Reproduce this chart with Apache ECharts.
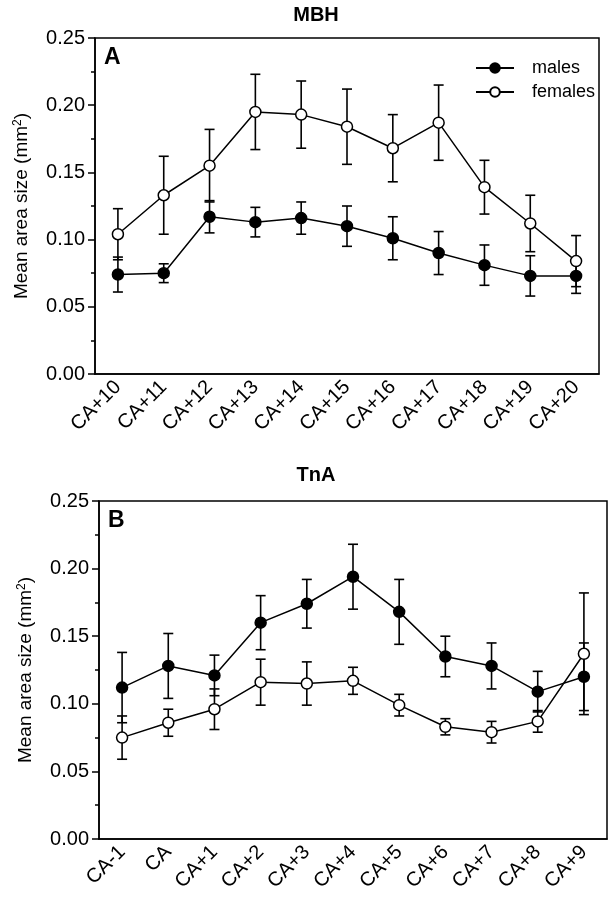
<!DOCTYPE html>
<html>
<head>
    <meta charset="utf-8">
    <title>MBH / TnA</title>
    <script type="text/javascript" src="https://cdn.jsdelivr.net/npm/echarts@6/dist/echarts.min.js"></script>
    <style type="text/css">
        html, body { margin: 0; padding: 0; background: #fff; }
        #chart { width: 614px; height: 909px; }
    </style>
</head>
<body>
<div id="chart"></div>
<script type="text/javascript">
    // panel A (MBH)
    let catsA = ['CA+10', 'CA+11', 'CA+12', 'CA+13', 'CA+14', 'CA+15', 'CA+16', 'CA+17', 'CA+18', 'CA+19', 'CA+20'];
    let malesA = [0.074, 0.075, 0.117, 0.113, 0.116, 0.110, 0.101, 0.090, 0.081, 0.073, 0.073];
    let malesErrA = [0.013, 0.007, 0.012, 0.011, 0.012, 0.015, 0.016, 0.016, 0.015, 0.015, 0.013];
    let femalesA = [0.104, 0.133, 0.155, 0.195, 0.193, 0.184, 0.168, 0.187, 0.139, 0.112, 0.084];
    let femalesErrA = [0.019, 0.029, 0.027, 0.028, 0.025, 0.028, 0.025, 0.028, 0.020, 0.021, 0.019];

    // panel B (TnA)
    let catsB = ['CA-1', 'CA', 'CA+1', 'CA+2', 'CA+3', 'CA+4', 'CA+5', 'CA+6', 'CA+7', 'CA+8', 'CA+9'];
    let malesB = [0.112, 0.128, 0.121, 0.160, 0.174, 0.194, 0.168, 0.135, 0.128, 0.109, 0.120];
    let malesErrB = [0.026, 0.024, 0.015, 0.020, 0.018, 0.024, 0.024, 0.015, 0.017, 0.015, 0.025];
    let femalesB = [0.075, 0.086, 0.096, 0.116, 0.115, 0.117, 0.099, 0.083, 0.079, 0.087, 0.137];
    let femalesErrB = [0.016, 0.010, 0.015, 0.017, 0.016, 0.010, 0.008, 0.006, 0.008, 0.008, 0.045];

    let yTicks = [0, 0.05, 0.10, 0.15, 0.20, 0.25];

    const FONT = 'Liberation Sans, Arial, sans-serif';

    function errData(vals, errs) {
        return vals.map(function (v, i) { return [i, v - errs[i], v + errs[i]]; });
    }

    function errSeries(idx, vals, errs) {
        return {
            type: 'custom',
            xAxisIndex: idx,
            yAxisIndex: idx,
            z: 1,
            silent: true,
            data: errData(vals, errs),
            renderItem: function (params, api) {
                let lo = api.coord([api.value(0), api.value(1)]);
                let hi = api.coord([api.value(0), api.value(2)]);
                let w = 5;
                let st = { stroke: '#000', lineWidth: 1.6 };
                return {
                    type: 'group',
                    children: [
                        { type: 'line', shape: { x1: lo[0], y1: lo[1], x2: hi[0], y2: hi[1] }, style: st },
                        { type: 'line', shape: { x1: lo[0] - w, y1: lo[1], x2: lo[0] + w, y2: lo[1] }, style: st },
                        { type: 'line', shape: { x1: hi[0] - w, y1: hi[1], x2: hi[0] + w, y2: hi[1] }, style: st }
                    ]
                };
            }
        };
    }

    function lineSeries(idx, name, vals, filled) {
        return {
            name: name,
            type: 'line',
            xAxisIndex: idx,
            yAxisIndex: idx,
            z: 3,
            data: vals,
            symbol: 'circle',
            symbolSize: 11,
            showAllSymbol: true,
            lineStyle: { color: '#000', width: 1.5 },
            itemStyle: { color: filled ? '#000' : '#fff', borderColor: '#000', borderWidth: 1.5 }
        };
    }

    function xAxis(idx, cats) {
        return {
            type: 'category',
            gridIndex: idx,
            data: cats,
            boundaryGap: true,
            axisLine: { lineStyle: { color: '#000', width: 1.5 } },
            axisTick: { alignWithLabel: true, length: 7, lineStyle: { color: '#000', width: 1.5 } },
            axisLabel: { rotate: 45, color: '#000', fontSize: 20, fontFamily: FONT, margin: 10 },
            splitLine: { show: false }
        };
    }

    function yAxis(idx) {
        return {
            type: 'value',
            gridIndex: idx,
            min: yTicks[0],
            max: yTicks[yTicks.length - 1],
            interval: 0.05,
            name: 'Mean area size (mm{sup|2})',
            nameLocation: 'middle',
            nameRotate: 90,
            nameGap: 64,
            nameTextStyle: {
                color: '#000', fontSize: 19, fontFamily: FONT,
                rich: { sup: { fontSize: 12, fontFamily: FONT, color: '#000', verticalAlign: 'top', lineHeight: 19 } }
            },
            axisLine: { show: true, lineStyle: { color: '#000', width: 1.5 } },
            axisTick: { show: true, length: 7, lineStyle: { color: '#000', width: 1.5 } },
            minorTick: { show: true, splitNumber: 2, length: 4, lineStyle: { color: '#000', width: 1.5 } },
            axisLabel: {
                color: '#000', fontSize: 20, fontFamily: FONT, margin: 10,
                formatter: function (v) { return v.toFixed(2); }
            },
            splitLine: { show: false }
        };
    }

    let chart = echarts.init(document.getElementById('chart'), null, { renderer: 'canvas' });

    chart.setOption({
        animation: false,
        backgroundColor: '#fff',
        grid: [
            { left: 95, top: 38, width: 504, height: 336, show: true, borderColor: '#000', borderWidth: 1.5, backgroundColor: 'transparent' },
            { left: 99, top: 501, width: 508, height: 338, show: true, borderColor: '#000', borderWidth: 1.5, backgroundColor: 'transparent' }
        ],
        xAxis: [xAxis(0, catsA), xAxis(1, catsB)],
        yAxis: [yAxis(0), yAxis(1)],
        legend: {
            data: ['males', 'females'],
            orient: 'vertical',
            left: 470,
            top: 54,
            itemWidth: 38,
            itemHeight: 12,
            itemGap: 6,
            textStyle: { color: '#000', fontSize: 18, fontFamily: FONT, padding: [0, 0, 0, 13] },
            selectedMode: false
        },
        graphic: [
            { type: 'text', x: 316, y: 15, style: { text: 'MBH', fill: '#000', font: 'bold 20px ' + FONT, textAlign: 'center', textVerticalAlign: 'middle' } },
            { type: 'text', x: 316, y: 475, style: { text: 'TnA', fill: '#000', font: 'bold 20px ' + FONT, textAlign: 'center', textVerticalAlign: 'middle' } },
            { type: 'text', x: 104, y: 58, style: { text: 'A', fill: '#000', font: 'bold 23px ' + FONT, textVerticalAlign: 'middle' } },
            { type: 'text', x: 108, y: 521, style: { text: 'B', fill: '#000', font: 'bold 23px ' + FONT, textVerticalAlign: 'middle' } }
        ],
        series: [
            errSeries(0, malesA, malesErrA),
            errSeries(0, femalesA, femalesErrA),
            lineSeries(0, 'males', malesA, true),
            lineSeries(0, 'females', femalesA, false),
            errSeries(1, malesB, malesErrB),
            errSeries(1, femalesB, femalesErrB),
            lineSeries(1, 'males', malesB, true),
            lineSeries(1, 'females', femalesB, false)
        ]
    });
</script>
</body>
</html>
